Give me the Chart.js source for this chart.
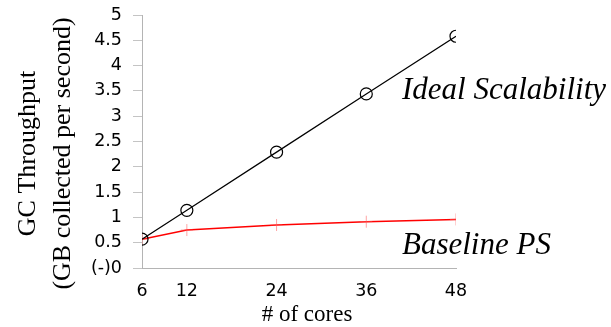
<!DOCTYPE html>
<html>
<head>
<meta charset="utf-8">
<script src="https://cdn.jsdelivr.net/npm/chart.js@4/dist/chart.umd.min.js"></script>
<style>
  html, body { margin: 0; padding: 0; background: #fff; }
  #wrap { position: relative; width: 611px; height: 327px; }
</style>
</head>
<body>
<div id="wrap"><canvas id="c" width="611" height="327"></canvas></div>
<script>
// Core counts on the x axis
const cores = [6, 12, 24, 36, 48];
// GC throughput (GB collected per second)
const idealScalability = [0.57, 1.14, 2.29, 3.44, 4.58];
const baselinePS = [0.57, 0.75, 0.85, 0.915, 0.96];
// Axis tick values
const xTicks = [6, 12, 24, 36, 48];
const yMin = 0, yMax = 5, yStep = 0.5;
// Axis captions
const xTitle = '# of cores';
const yTitleLines = ['GC Throughput', '(GB collected per second)'];

const serif = '"Liberation Serif", "Times New Roman", serif';
const sans = '"DejaVu Sans", sans-serif';
const axisGrey = '#b4b4b4';

// Series names drawn next to their lines, plus both axis captions
const captions = {
  id: 'captions',
  afterDraw(chart) {
    const { ctx, chartArea } = chart;
    ctx.save();
    ctx.fillStyle = '#000';
    ctx.textBaseline = 'alphabetic';
    ctx.textAlign = 'left';
    ctx.font = 'italic 31px ' + serif;
    ctx.fillText('Ideal Scalability', chartArea.right - 54, 99);
    ctx.fillText('Baseline PS', chartArea.right - 54, 254);

    ctx.textAlign = 'center';
    ctx.textBaseline = 'middle';
    ctx.font = '23px ' + serif;
    ctx.fillText(xTitle, (chartArea.left + chartArea.right) / 2 + 8, 315);

    // rotated two-line y caption
    ctx.font = '26px ' + serif;
    ctx.translate(0, (chartArea.top + chartArea.bottom) / 2 + 12);
    ctx.rotate(-Math.PI / 2);
    yTitleLines.forEach((line, i) => ctx.fillText(line, 0, 28 + i * 35));
    ctx.restore();
  }
};

new Chart(document.getElementById('c'), {
  type: 'line',
  data: {
    datasets: [
      {
        label: 'Ideal Scalability',
        data: cores.map((c, i) => ({ x: c, y: idealScalability[i] })),
        borderColor: '#000',
        borderWidth: 1.2,
        pointStyle: 'circle',
        pointRadius: 6,
        pointBorderWidth: 1.2,
        pointBorderColor: '#000',
        pointBackgroundColor: 'rgba(0,0,0,0)',
        tension: 0
      },
      {
        label: 'Baseline PS',
        data: cores.map((c, i) => ({ x: c, y: baselinePS[i] })),
        borderColor: '#ff0000',
        borderWidth: 1.5,
        pointStyle: 'cross',
        pointRadius: 6,
        pointBorderWidth: 1,
        pointBorderColor: 'rgba(255,90,90,0.55)',
        pointBackgroundColor: 'rgba(0,0,0,0)',
        tension: 0
      }
    ]
  },
  options: {
    responsive: false,
    animation: false,
    devicePixelRatio: 1,
    layout: { padding: { left: 0, right: 155, top: 15, bottom: 0 } },
    plugins: {
      legend: { display: false },
      tooltip: { enabled: false }
    },
    scales: {
      x: {
        type: 'linear',
        min: 6,
        max: 48,
        afterBuildTicks(scale) { scale.ticks = xTicks.map(v => ({ value: v })); },
        afterFit(scale) { scale.height = 59; },
        grid: { display: false },
        border: { display: true, color: axisGrey, width: 1 },
        ticks: {
          padding: 5,
          color: '#000',
          font: { family: sans, size: 17.5 },
          maxRotation: 0,
          autoSkip: false
        }
      },
      y: {
        min: yMin,
        max: yMax,
        afterFit(scale) {
          scale.width = 142;
          // only keep half a label of room above the top tick
          scale.paddingTop = 10;
          scale.paddingBottom = 10;
        },
        grid: {
          drawOnChartArea: false,
          drawTicks: true,
          tickLength: 9,
          color: '#c4c4c4'
        },
        border: { display: true, color: axisGrey, width: 1 },
        ticks: {
          stepSize: yStep,
          padding: 11,
          color: '#000',
          font: { family: sans, size: 17.5 },
          callback: v => (v === 0 ? '(-)0' : String(v))
        }
      }
    }
  },
  plugins: [captions]
});
</script>
</body>
</html>
